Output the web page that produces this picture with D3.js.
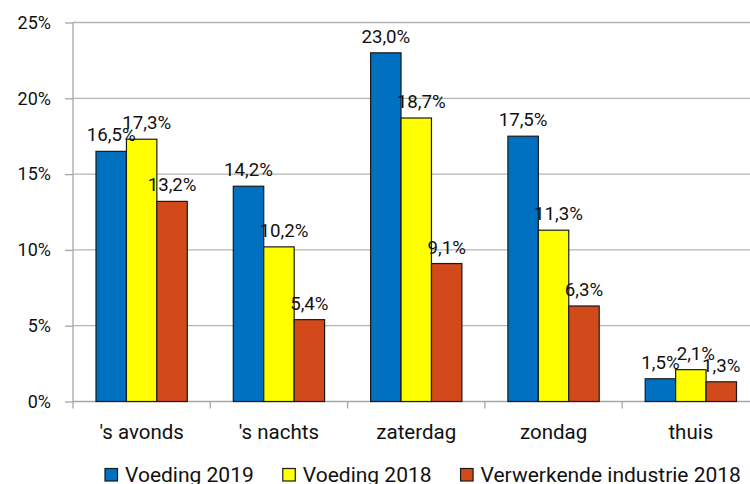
<!DOCTYPE html>
<html>
<head>
<meta charset="utf-8">
<script src="https://cdn.jsdelivr.net/npm/d3@7"></script>
<style>
   body { margin: 0; background: #fff; }
   svg { display: block; font-family: Roboto, "Noto Sans", sans-serif; }
</style>
</head>
<body>
<div id="chart"></div>
<script>

// CATEGORIES & SERIES
var categories = ["'s avonds", "'s nachts", 'zaterdag', 'zondag', 'thuis'];
var series = ['Voeding 2019', 'Voeding 2018', 'Verwerkende industrie 2018'];
var voeding2019 = [16.5, 14.2, 23.0, 17.5, 1.5];
var voeding2018 = [17.3, 10.2, 18.7, 11.3, 2.1];
var industrie2018 = [13.2, 5.4, 9.1, 6.3, 1.3];
var yTicks = [0, 5, 10, 15, 20, 25];

// SETTINGS
var settings = {
   width: 750,
   height: 484,
   left: 73,
   right: 759.5,
   top: 22.5,
   bottom: 401.5,
   colors: ['#0070c0', '#ffff00', '#d24a1a'],
   labelShift: [0, 5, 0]
};

// COMBINE SERIES INTO ROWS
var values = [voeding2019, voeding2018, industrie2018];
var rows = categories.map((c, i) => {
   return { category: c, values: values.map((v, s) => { return { series: s, value: v[i] } }) };
});

// CANVAS
var canvas = d3.select('#chart').append('svg')
   .attr('width', settings.width)
   .attr('height', settings.height)

// SCALES
var yScale = d3.scaleLinear()
   .domain([0, 25])
   .range([settings.bottom, settings.top])

var xScale = d3.scaleBand()
   .domain(categories)
   .range([settings.left, settings.right])
   .paddingInner(0.335)
   .paddingOuter(0.1675)

var sScale = d3.scaleBand()
   .domain(d3.range(series.length))
   .range([0, xScale.bandwidth()])

// GRIDLINES
canvas.append('g')
   .selectAll('line')
   .data(yTicks.filter(d => d > 0))
      .enter().append('line')
         .attr('x1', settings.left)
         .attr('x2', settings.width)
         .attr('y1', d => yScale(d))
         .attr('y2', d => yScale(d))
         .attr('stroke', '#b4b4b4')
         .attr('stroke-width', 1.3)

// Y-AXIS
var yAxis = d3.axisLeft(yScale)
   .tickValues(yTicks)
   .tickFormat(d => d + '%')
   .tickSize(8)
   .tickPadding(14)

var yg = canvas.append('g')
   .attr('transform', 'translate(' + settings.left + ',0)')
   .call(yAxis)

yg.select('.domain').remove()
yg.selectAll('.tick line').attr('stroke', '#a6a6a6').attr('stroke-width', 1.3)
yg.selectAll('.tick text')
   .attr('font-size', 18)
   .attr('font-family', 'Roboto')
   .attr('fill', '#111')

// AXIS LINES
canvas.append('line')
   .attr('x1', settings.left).attr('x2', settings.left)
   .attr('y1', settings.top).attr('y2', settings.bottom + 7)
   .attr('stroke', '#a6a6a6').attr('stroke-width', 1.3)

canvas.append('line')
   .attr('x1', settings.left).attr('x2', settings.width)
   .attr('y1', settings.bottom).attr('y2', settings.bottom)
   .attr('stroke', '#a6a6a6').attr('stroke-width', 1.3)

// CATEGORY SEPARATOR TICKS
canvas.append('g')
   .selectAll('line')
   .data(categories.slice(0, -1))
      .enter().append('line')
         .attr('x1', d => xScale(d) + xScale.bandwidth() / 2 + xScale.step() / 2)
         .attr('x2', d => xScale(d) + xScale.bandwidth() / 2 + xScale.step() / 2)
         .attr('y1', settings.bottom)
         .attr('y2', settings.bottom + 7)
         .attr('stroke', '#a6a6a6')
         .attr('stroke-width', 1.3)

// CATEGORY LABELS
var xAxis = d3.axisBottom(xScale).tickSize(0)
var xg = canvas.append('g')
   .attr('transform', 'translate(0,' + settings.bottom + ')')
   .call(xAxis)

xg.select('.domain').remove()
xg.selectAll('.tick text')
   .attr('y', 37.5)
   .attr('dy', 0)
   .attr('font-size', 20.5)
   .attr('font-family', 'Roboto')
   .attr('fill', '#111')

// BARS
var groups = canvas.append('g')
   .selectAll('g')
   .data(rows)
      .enter().append('g')
         .attr('transform', d => 'translate(' + xScale(d.category) + ',0)')

groups.selectAll('rect')
   .data(d => d.values)
      .enter().append('rect')
         .attr('x', d => sScale(d.series))
         .attr('y', d => yScale(d.value))
         .attr('width', sScale.bandwidth())
         .attr('height', d => yScale(0) - yScale(d.value))
         .attr('fill', d => settings.colors[d.series])
         .attr('stroke', '#1a1a1a')
         .attr('stroke-width', 1.2)

// DATA LABELS
groups.selectAll('text')
   .data(d => d.values)
      .enter().append('text')
         .attr('x', d => sScale(d.series) + sScale.bandwidth() / 2 + settings.labelShift[d.series])
         .attr('y', d => yScale(d.value) - 10)
         .attr('text-anchor', 'middle')
         .attr('font-size', 18.7)
         .attr('fill', '#111')
         .text(d => d.value.toFixed(1).replace('.', ',') + '%')

// LEGEND
var legend = canvas.append('g')
var lx = 105;
series.forEach((name, i) => {
   legend.append('rect')
      .attr('x', lx)
      .attr('y', 468.5)
      .attr('width', 12.5)
      .attr('height', 12.5)
      .attr('fill', settings.colors[i])
      .attr('stroke', '#1a1a1a')
      .attr('stroke-width', 1.2)

   var t = legend.append('text')
      .attr('x', lx + 20)
      .attr('y', 481.5)
      .attr('font-size', 21)
      .attr('fill', '#111')
      .text(name)

   lx += 20 + t.node().getComputedTextLength() + 29;
});

</script>
</body>
</html>
